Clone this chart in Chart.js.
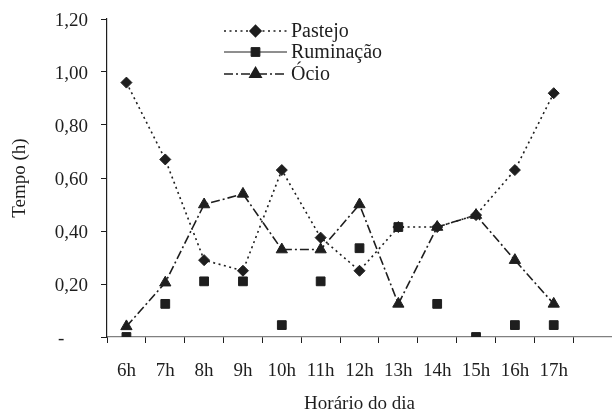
<!DOCTYPE html>
<html lang="pt">

<head>
    <meta charset="UTF-8">
    <title>Tempo por horário do dia</title>
    <script src="https://cdn.jsdelivr.net/npm/chart.js"></script>
    <style>
        html, body { margin: 0; padding: 0; background: #fff; }
        #box { width: 612px; height: 411px; }
    </style>
</head>

<body>
    <div id="box"><canvas id="chart" width="612" height="411"></canvas></div>
    <script>
        // categorias (a última fica vazia, o eixo continua depois das 17h)
        const horas = ['6h', '7h', '8h', '9h', '10h', '11h', '12h', '13h', '14h', '15h', '16h', '17h', ''];
        const pastejo = [0.96, 0.67, 0.29, 0.25, 0.63, 0.375, 0.25, 0.415, 0.415, 0.46, 0.63, 0.92];
        const ruminacao = [0.0, 0.125, 0.21, 0.21, 0.045, 0.21, 0.335, 0.415, 0.125, 0.0, 0.045, 0.045];
        const ocio = [0.04, 0.205, 0.50, 0.54, 0.33, 0.33, 0.50, 0.125, 0.415, 0.46, 0.29, 0.125];
        const yTicks = [0, 0.2, 0.4, 0.6, 0.8, 1.0, 1.2];

        const ink = '#1e1e1e';
        const serif = '"Liberation Serif", "Times New Roman", serif';

        // legenda desenhada à mão: linha + marcador + texto
        const legendaLinha = {
            id: 'legendaLinha',
            afterDatasetsDraw(chart) {
                const ctx = chart.ctx;
                const x0 = 224, x1 = 287, rows = [31, 52, 74];
                chart.data.datasets.forEach((ds, i) => {
                    const y = rows[i];
                    ctx.save();
                    ctx.strokeStyle = ink;
                    ctx.lineWidth = ds.legendWidth;
                    ctx.setLineDash(ds.legendDash);
                    ctx.beginPath();
                    ctx.moveTo(x0, y);
                    ctx.lineTo(x1, y);
                    ctx.stroke();
                    ctx.setLineDash([]);
                    ctx.fillStyle = ink;
                    ctx.strokeStyle = ink;
                    Chart.helpers.drawPoint(ctx, {
                        pointStyle: ds.pointStyle,
                        radius: ds.pointRadius,
                        rotation: 0,
                        borderWidth: 1
                    }, (x0 + x1) / 2, y);
                    ctx.font = '20px ' + serif;
                    ctx.textBaseline = 'middle';
                    ctx.textAlign = 'left';
                    ctx.fillStyle = ink;
                    ctx.fillText(ds.label, 291, y + 1);
                    ctx.restore();
                });
            }
        };

        const ctx = document.getElementById('chart').getContext('2d');
        new Chart(ctx, {
            type: 'line',
            data: {
                labels: horas,
                datasets: [{
                    label: 'Pastejo',
                    data: pastejo,
                    borderColor: ink,
                    backgroundColor: ink,
                    borderWidth: 1.6,
                    borderDash: [2, 3.5],
                    pointStyle: 'rectRot',
                    pointRadius: 5.5,
                    pointBorderWidth: 1,
                    legendDash: [2, 3.5],
                    legendWidth: 1.6
                }, {
                    label: 'Ruminação',
                    data: ruminacao,
                    showLine: false,
                    borderColor: ink,
                    backgroundColor: ink,
                    borderWidth: 1,
                    pointStyle: 'rect',
                    pointRadius: 6.2,
                    pointBorderWidth: 1,
                    legendDash: [],
                    legendWidth: 1
                }, {
                    label: 'Ócio',
                    data: ocio,
                    borderColor: ink,
                    backgroundColor: ink,
                    borderWidth: 1.6,
                    borderDash: [9, 3, 2, 3],
                    pointStyle: 'triangle',
                    pointRadius: 6.5,
                    pointBorderWidth: 1,
                    legendDash: [9, 3, 2, 3],
                    legendWidth: 1.6
                }]
            },
            options: {
                responsive: false,
                animation: false,
                layout: { autoPadding: false, padding: { top: 19, right: 0, bottom: 0, left: 0 } },
                plugins: {
                    legend: { display: false },
                    tooltip: { enabled: false }
                },
                elements: { line: { tension: 0 } },
                scales: {
                    x: {
                        offset: true,
                        afterFit: (s) => { s.height = 74; s.paddingLeft = 0; s.paddingRight = 0; },
                        grid: { offset: true, drawOnChartArea: false, drawTicks: true, tickLength: 6, color: ink },
                        border: { display: true, color: '#808080', width: 1.2 },
                        ticks: { color: ink, font: { family: serif, size: 19 }, padding: 17, maxRotation: 0, autoSkip: false },
                        title: { display: true, text: 'Horário do dia', color: ink, font: { family: serif, size: 19 }, padding: { bottom: -4 } }
                    },
                    y: {
                        min: 0,
                        max: 1.2,
                        afterFit: (s) => { s.width = 107; s.paddingTop = 0; s.paddingBottom = 0; },
                        afterBuildTicks: (s) => { s.ticks = yTicks.map(v => ({ value: v })); },
                        grid: { drawOnChartArea: false, drawTicks: true, tickLength: 6, color: ink },
                        border: { display: true, color: ink, width: 1.2 },
                        ticks: {
                            color: ink,
                            padding: 13,
                            labelOffset: 2,
                            font: { family: serif, size: 19 },
                            callback: (v) => v === 0 ? '-\u00a0\u00a0\u00a0\u00a0\u00a0' : v.toFixed(2).replace('.', ',')
                        },
                        title: { display: true, text: 'Tempo (h)', color: ink, font: { family: serif, size: 19 }, padding: { top: 9 } }
                    }
                }
            },
            plugins: [legendaLinha]
        });
    </script>
</body>

</html>
